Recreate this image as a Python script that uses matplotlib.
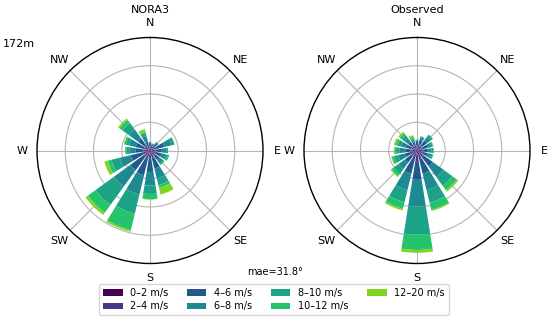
import numpy as np
import matplotlib
matplotlib.use("Agg")
import matplotlib.pyplot as plt
from matplotlib.patches import Patch

directions = ["N", "NNE", "NE", "ENE", "E", "ESE", "SE", "SSE",
              "S", "SSW", "SW", "WSW", "W", "WNW", "NW", "NNW"]
speed_bins = ["0–2 m/s", "2–4 m/s", "4–6 m/s", "6–8 m/s",
              "8–10 m/s", "10–12 m/s", "12–20 m/s"]
compass_labels = ["N", "NE", "E", "SE", "S", "SW", "W", "NW"]

# frequency (%) per speed bin, per direction (N, NNE, ..., NNW)
nora3_0_2   = [0.3, 0.3, 0.3, 0.3, 0.3, 0.3, 0.3, 0.3, 0.3, 0.3, 0.3, 0.3, 0.3, 0.3, 0.3, 0.2]
nora3_2_4   = [0.5, 0.4, 0.6, 0.8, 0.7, 0.7, 0.7, 1.0, 1.0, 1.2, 1.0, 0.9, 0.8, 0.8, 0.7, 0.5]
nora3_4_6   = [0.5, 0.4, 0.6, 1.5, 1.1, 1.1, 1.0, 2.0, 2.5, 3.0, 3.0, 2.3, 1.4, 1.5, 1.6, 0.9]
nora3_6_8   = [0.2, 0.2, 0.3, 1.3, 0.8, 0.8, 0.8, 1.8, 2.4, 3.5, 3.6, 2.0, 1.1, 1.2, 2.0, 1.0]
nora3_8_10  = [0.0, 0.0, 0.1, 0.5, 0.3, 0.4, 0.3, 1.2, 1.5, 3.5, 4.0, 1.5, 0.6, 0.6, 1.4, 0.6]
nora3_10_12 = [0.0, 0.0, 0.0, 0.1, 0.0, 0.2, 0.1, 0.5, 0.9, 3.0, 1.7, 0.7, 0.2, 0.3, 0.7, 0.2]
nora3_12_20 = [0.0, 0.0, 0.0, 0.0, 0.0, 0.0, 0.0, 1.2, 0.1, 0.3, 0.5, 0.6, 0.0, 0.1, 0.3, 0.5]

obs_0_2   = [0.3, 0.3, 0.3, 0.3, 0.3, 0.3, 0.4, 0.4, 0.5, 0.4, 0.3, 0.3, 0.3, 0.3, 0.3, 0.3]
obs_2_4   = [0.6, 0.7, 0.8, 0.8, 0.7, 0.7, 1.0, 1.2, 1.5, 1.2, 0.8, 0.7, 0.7, 0.7, 0.7, 0.6]
obs_4_6   = [0.6, 0.9, 1.1, 0.9, 0.9, 0.9, 2.0, 2.6, 3.2, 2.6, 1.5, 1.2, 1.1, 1.0, 0.9, 0.6]
obs_6_8   = [0.3, 0.5, 0.8, 0.6, 0.7, 0.7, 2.4, 3.0, 4.7, 3.0, 1.5, 1.2, 1.0, 0.9, 0.8, 0.4]
obs_8_10  = [0.1, 0.2, 0.4, 0.3, 0.3, 0.3, 1.9, 2.3, 5.0, 2.2, 1.0, 0.8, 0.6, 0.6, 0.6, 0.3]
obs_10_12 = [0.0, 0.0, 0.1, 0.1, 0.1, 0.1, 1.0, 1.3, 2.7, 1.2, 0.5, 0.4, 0.3, 0.4, 0.5, 0.3]
obs_12_20 = [0.0, 0.0, 0.0, 0.0, 0.0, 0.0, 0.3, 0.2, 0.5, 0.3, 0.2, 0.1, 0.1, 0.3, 0.3, 0.3]

nora3 = [nora3_0_2, nora3_2_4, nora3_4_6, nora3_6_8, nora3_8_10, nora3_10_12, nora3_12_20]
observed = [obs_0_2, obs_2_4, obs_4_6, obs_6_8, obs_8_10, obs_10_12, obs_12_20]

colors = ["#440154", "#4a3587", "#21598c", "#1d8a93", "#1ca287", "#25c46c", "#7ed41f"]

fig = plt.figure(figsize=(5.5, 3.23), dpi=100)
W, H = 550, 323
R = 113

def make_ax(cx, cy):
    return fig.add_axes([(cx - R) / W, 1 - (cy + R) / H, 2 * R / W, 2 * R / H],
                        projection="polar")

n = len(directions)
theta = np.arange(n) * 2 * np.pi / n
width = 0.8 * 2 * np.pi / n

def draw(ax, data):
    ax.set_theta_zero_location("N")
    ax.set_theta_direction(-1)
    ax.set_axisbelow(True)
    bottom = np.zeros(n)
    for vals, c in zip(data, colors):
        v = np.array(vals)
        ax.bar(theta, v, width=width, bottom=bottom, color=c,
               edgecolor="none", linewidth=0, align="center")
        bottom += v
    ax.set_ylim(0, 20)
    ax.set_yticks([5, 10, 15])
    ax.set_yticklabels([])
    ax.set_thetagrids(np.arange(0, 360, 45), compass_labels, fontsize=8)
    ax.tick_params(axis="x", pad=0)
    ax.grid(True, color="#b5b5b5", linewidth=0.8)
    ax.spines["polar"].set_color("black")
    ax.spines["polar"].set_linewidth(1.0)

ax1 = make_ax(150, 150.5)
ax2 = make_ax(417, 150.5)
draw(ax1, nora3)
draw(ax2, observed)

fig.text(150 / W, 1 - 10 / H, "NORA3", fontsize=8, ha="center", va="center")
fig.text(417 / W, 1 - 10 / H, "Observed", fontsize=8, ha="center", va="center")
fig.text(3 / W, 1 - 44 / H, "172m", fontsize=8, ha="left", va="center")
fig.text(275 / W, 1 - 272 / H, "mae=31.8°", fontsize=7, ha="center", va="center")

handles = [Patch(facecolor=c, edgecolor="none") for c in colors]
fig.legend(handles, speed_bins, loc="lower center", ncol=4,
           bbox_to_anchor=(274 / W, 1 - 320 / H), fontsize=7,
           frameon=True, handlelength=2.0, handleheight=0.6,
           columnspacing=1.9, borderpad=0.4, labelspacing=0.35)

fig.savefig("out.png", dpi=100)
